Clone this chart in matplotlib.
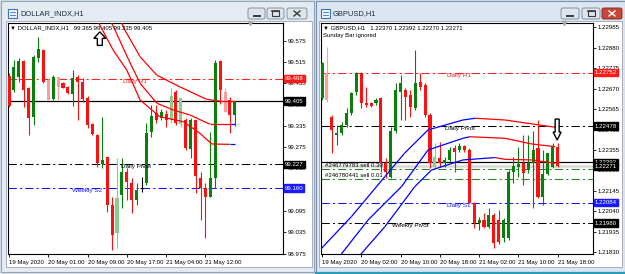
import matplotlib.pyplot as plt
import matplotlib.transforms as mtransforms
from matplotlib.collections import LineCollection
from matplotlib.patches import Rectangle, FancyBboxPatch, Polygon
import numpy as np

plt.rcParams['font.family'] = ['Liberation Sans', 'DejaVu Sans']

# ---------------- DOLLAR_INDX, H1 ----------------
usd_open = [99.476, 99.436, 99.474, 99.519, 99.441, 99.361, 99.525, 99.549, 99.464, 99.410,
            99.472, 99.455, 99.445, 99.425, 99.474, 99.460, 99.415, 99.340, 99.309, 99.228,
            99.246, 99.112, 99.032, 99.140, 99.206, 99.173, 99.126, 99.160, 99.173, 99.319,
            99.372, 99.356, 99.368, 99.352, 99.431, 99.340, 99.352, 99.269, 99.352, 99.187,
            99.159, 99.136, 99.187, 99.519, 99.431, 99.408, 99.365]
usd_high = [99.483, 99.521, 99.525, 99.522, 99.445, 99.535, 99.586, 99.553, 99.469, 99.478,
            99.474, 99.460, 99.448, 99.492, 99.478, 99.469, 99.419, 99.342, 99.312, 99.359,
            99.248, 99.136, 99.244, 99.244, 99.215, 99.187, 99.173, 99.192, 99.342, 99.394,
            99.394, 99.382, 99.380, 99.441, 99.436, 99.415, 99.356, 99.356, 99.353, 99.206,
            99.173, 99.319, 99.522, 99.521, 99.441, 99.417, 99.405]
usd_low = [99.387, 99.431, 99.460, 99.389, 99.309, 99.337, 99.516, 99.455, 99.408, 99.408,
           99.408, 99.441, 99.425, 99.391, 99.352, 99.403, 99.328, 99.309, 99.220, 99.215,
           99.093, 98.985, 98.990, 99.103, 99.126, 99.089, 99.112, 99.150, 99.168, 99.305,
           99.342, 99.352, 99.333, 99.342, 99.337, 99.333, 99.267, 99.244, 99.145, 99.070,
           99.018, 99.136, 99.159, 99.398, 99.375, 99.314, 99.335]
usd_close = [99.391, 99.502, 99.519, 99.436, 99.356, 99.530, 99.553, 99.460, 99.408, 99.472,
             99.445, 99.441, 99.429, 99.469, 99.460, 99.410, 99.337, 99.312, 99.231, 99.239,
             99.112, 99.028, 99.131, 99.206, 99.178, 99.126, 99.154, 99.160, 99.314, 99.363,
             99.352, 99.373, 99.352, 99.419, 99.342, 99.413, 99.272, 99.353, 99.194, 99.159,
             99.136, 99.187, 99.513, 99.436, 99.375, 99.366, 99.405]
usd_faded = [8, 10, 22, 33, 35, 44]
usd_dates = ["19 May 2020", "20 May 01:00", "20 May 09:00", "20 May 17:00", "21 May 04:00", "21 May 12:00"]
usd_date_bars = [0, 8, 16, 24, 32, 40]
usd_ticks = [98.975, 99.035, 99.095, 99.155, 99.215, 99.275, 99.335, 99.395, 99.455, 99.515, 99.575]
usd_hidden_ticks = [99.155]  # covered by the 99.160 price box

# envelope lines (bar, price) and segment colours
usd_ma_upper_x = [21.2, 23.6, 26.7, 30.1, 34.8, 40.2, 42.9, 46.0]
usd_ma_upper_y = [99.676, 99.605, 99.530, 99.478, 99.445, 99.410, 99.405, 99.405]
usd_ma_upper_c = ["r"] * 7
usd_ma_mid_x = [19.1, 21.6, 24.2, 26.7, 30.1, 33.4, 36.8, 40.9, 45.0, 46.0]
usd_ma_mid_y = [99.676, 99.605, 99.526, 99.455, 99.399, 99.380, 99.366, 99.340, 99.340, 99.340]
usd_ma_mid_c = ["r"] * 8 + ["b"]
usd_ma_low_x = [16.7, 18.5, 21.2, 24.0, 26.7, 30.7, 35.5, 38.9, 41.3, 45.0, 46.0]
usd_ma_low_y = [99.676, 99.619, 99.549, 99.492, 99.408, 99.361, 99.347, 99.314, 99.284, 99.283, 99.283]
usd_ma_low_c = ["r"] * 9 + ["b"]

# levels: price, label, colour, label bar, style
usd_levels = [(99.468, "Daily R1", "red", 23.2, "dashdot"),
              (99.405, "", "black", 0, "solid"),
              (99.227, "Daily Pivot", "black", 22.8, "dashdot"),
              (99.160, "Weekly S2", "blue", 12.8, "dashdot")]
usd_boxes = [(99.468, "99.468", "#ff1a1a"), (99.405, "99.405", "black"),
             (99.227, "99.227", "black"), (99.160, "99.160", "#1a1aff")]

# ---------------- GBPUSD, H1 ----------------
gbp_open = [1.22621, 1.22749, 1.22526, 1.22432, 1.22441, 1.22484, 1.22544, 1.22655, 1.22752, 1.22595,
            1.22595, 1.22595, 1.22621, 1.22287, 1.22218, 1.22450, 1.22655, 1.22663, 1.22638, 1.22569,
            1.22706, 1.22689, 1.22535, 1.22270, 1.22313, 1.22287, 1.22304, 1.22364, 1.22355, 1.22376,
            1.22355, 1.22082, 1.21979, 1.21996, 1.21958, 1.22022, 1.21996, 1.21902, 1.21902, 1.22244,
            1.22270, 1.22287, 1.22253, 1.22287, 1.22364, 1.22116, 1.22232, 1.22270, 1.22370]
gbp_high = [1.22809, 1.22886, 1.22535, 1.22484, 1.22501, 1.22569, 1.22655, 1.22757, 1.22757, 1.22680,
            1.22603, 1.22621, 1.22629, 1.22313, 1.22475, 1.22698, 1.22740, 1.22672, 1.22663, 1.22869,
            1.22749, 1.22698, 1.22544, 1.22390, 1.22398, 1.22321, 1.22372, 1.22381, 1.22390, 1.22381,
            1.22364, 1.22090, 1.22013, 1.22030, 1.22056, 1.22030, 1.22047, 1.22005, 1.22253, 1.22321,
            1.22372, 1.22432, 1.22432, 1.22450, 1.22509, 1.22355, 1.22338, 1.22390, 1.22392]
gbp_low = [1.22612, 1.22603, 1.22338, 1.22381, 1.22432, 1.22475, 1.22535, 1.22638, 1.22569, 1.22578,
           1.22574, 1.22586, 1.22244, 1.22210, 1.22210, 1.22441, 1.22509, 1.22509, 1.22526, 1.22561,
           1.22663, 1.22526, 1.22261, 1.22261, 1.22270, 1.22270, 1.22295, 1.22244, 1.22347, 1.22347,
           1.22082, 1.21953, 1.21945, 1.21953, 1.21953, 1.21851, 1.21873, 1.21885, 1.21893, 1.22184,
           1.22218, 1.22176, 1.22236, 1.22056, 1.22107, 1.22073, 1.22227, 1.22261, 1.22270]
gbp_close = [1.22800, 1.22612, 1.22460, 1.22441, 1.22484, 1.22544, 1.22646, 1.22749, 1.22595, 1.22586,
             1.22581, 1.22612, 1.22287, 1.22244, 1.22450, 1.22663, 1.22698, 1.22629, 1.22578, 1.22698,
             1.22680, 1.22535, 1.22287, 1.22321, 1.22287, 1.22304, 1.22355, 1.22347, 1.22376, 1.22355,
             1.22085, 1.21982, 1.21993, 1.21958, 1.22022, 1.21880, 1.21885, 1.21996, 1.22244, 1.22275,
             1.22283, 1.22239, 1.22287, 1.22355, 1.22116, 1.22232, 1.22338, 1.22372, 1.22271]
gbp_faded = [1, 23]
gbp_dates = ["19 May 2020", "20 May 02:00", "20 May 10:00", "20 May 18:00",
             "21 May 02:00", "21 May 10:00", "21 May 18:00"]
gbp_date_bars = [0, 8, 16, 24, 32, 40, 48]
gbp_ticks = [1.21830, 1.21935, 1.22040, 1.22145, 1.22250, 1.22355, 1.22460,
             1.22565, 1.22670, 1.22775, 1.22880, 1.22985]
gbp_hidden_ticks = []

gbp_ma_upper_x = [-0.8, -0.1, 6.0, 12.8, 16.8, 21.6, 28.7, 31.2, 37.3, 44.1, 47.5]
gbp_ma_upper_y = [1.21790, 1.21850, 1.22013, 1.22218, 1.22338, 1.22458, 1.22509, 1.22518, 1.22509, 1.22484, 1.22472]
gbp_ma_upper_c = ["b"] * 7 + ["r"] * 3
gbp_ma_mid_x = [2.2, 9.4, 16.2, 21.6, 28.7, 30.1, 37.3, 42.7, 47.5]
gbp_ma_mid_y = [1.21765, 1.21996, 1.22167, 1.22355, 1.22415, 1.22423, 1.22415, 1.22386, 1.22372]
gbp_ma_mid_c = ["b"] * 5 + ["r"] * 3
gbp_ma_low_x = [6.0, 12.8, 18.9, 22.3, 28.7, 35.2, 37.3, 42.7, 47.5]
gbp_ma_low_y = [1.21765, 1.21961, 1.22167, 1.22252, 1.22304, 1.22316, 1.22307, 1.22304, 1.22287]
gbp_ma_low_c = ["b"] * 5 + ["r"] * 3

gbp_levels = [(1.22752, "Daily R1", "red", 25.5, "dashdot"),
              (1.22478, "Daily Pivot", "black", 25.1, "dashdot"),
              (1.22292, "", "black", 0, "solid"),
              (1.22084, "Daily S1", "blue", 25.5, "dashdot"),
              (1.21980, "Weekly Pivot", "black", 14.3, "dashdot")]
gbp_orders = [(1.22256, "#246779783 sell 0.30"), (1.22205, "#246780441 sell 0.01")]
gbp_bid = 1.22271
gbp_boxes = [(1.22752, "1.22752", "#ff1a1a"), (1.22478, "1.22478", "black"),
             (1.22292, "1.22292", "black"), (1.22271, "1.22271", "black"),
             (1.22084, "1.22084", "#1a1aff"), (1.21980, "1.21980", "black")]

GREEN, RED = "#0b7f0b", "#ff1010"
GREEN_F, RED_F = "#8ccb8c", "#ff9c9c"
LINE_COL = {"r": "#ff0000", "b": "#0000ff"}
LVL_COL = {"red": "#ff2020", "black": "black", "blue": "#1010ff"}
DASH = (8, 3, 2, 3)


def draw_candles(ax, o, h, l, c, faded):
    for i in range(len(o)):
        if c[i] == o[i]:
            col = "black"
        elif c[i] > o[i]:
            col = GREEN_F if i in faded else GREEN
        else:
            col = RED_F if i in faded else RED
        ax.vlines(i, l[i], h[i], color=col, lw=0.8, zorder=3)
        if c[i] == o[i]:
            ax.hlines(o[i], i - 0.3, i + 0.3, color=col, lw=0.8, zorder=3)
        else:
            ax.bar(i, abs(c[i] - o[i]), bottom=min(o[i], c[i]), width=0.62,
                   color=col, lw=0, zorder=3)


def draw_ma(ax, xs, ys, cols):
    pts = np.column_stack([xs, ys])
    segs = [pts[k:k + 2] for k in range(len(pts) - 1)]
    ax.add_collection(LineCollection(segs, colors=[LINE_COL[c] for c in cols],
                                     lw=0.9, zorder=4))


def draw_levels(ax, levels):
    for price, label, col, lbar, style in levels:
        if style == "solid":
            ax.axhline(price, color=LVL_COL[col], lw=0.9, zorder=2)
        else:
            ax.axhline(price, color=LVL_COL[col], lw=0.75, dashes=DASH, zorder=2)
        if label:
            ax.text(lbar, price, label, color=LVL_COL[col], fontsize=4.6,
                    va="top", ha="left", zorder=5)


def draw_boxes(ax, boxes):
    tr = mtransforms.blended_transform_factory(ax.transAxes, ax.transData)
    for price, txt, col in boxes:
        ax.text(1.006, price, txt, transform=tr, color="white", fontsize=4.4,
                va="center", ha="left", clip_on=False, zorder=6,
                bbox=dict(boxstyle="square,pad=0.18", fc=col, ec=col))


def setup(ax, xlim, ylim, ticks, hidden, fmt, date_bars, dates):
    ax.set_xlim(*xlim)
    ax.set_ylim(*ylim)
    ax.set_facecolor("white")
    ax.set_yticks(ticks)
    ax.set_yticklabels(["" if v in hidden else fmt % v for v in ticks])
    ax.yaxis.tick_right()
    ax.tick_params(axis="y", length=2, width=0.6, pad=1.5, labelsize=4.4)
    ax.set_xticks(date_bars)
    ax.set_xticklabels(dates, ha="left")
    ax.tick_params(axis="x", length=2.5, width=0.6, pad=1.5, labelsize=4.3)
    for s in ax.spines.values():
        s.set_linewidth(0.8)
        s.set_color("black")
    ax.plot([0.88 if xlim[1] > 55.5 else 0.895], [1.0], marker="v", ms=3,
            color="#a8a8a8", transform=ax.transAxes, clip_on=False, zorder=6)


def hollow_arrow(ax, bar, price, down, hw, hh, sw, sh):
    s = -1 if down else 1
    pts = [(0, 0), (-hw / 2, -s * hh), (-sw / 2, -s * hh), (-sw / 2, -s * (hh + sh)),
           (sw / 2, -s * (hh + sh)), (sw / 2, -s * hh), (hw / 2, -s * hh)]
    tr = mtransforms.Affine2D() + mtransforms.ScaledTranslation(bar, price, ax.transData)
    ax.add_patch(Polygon(pts, closed=True, fc="white", ec="black", lw=1.0,
                         transform=tr, clip_on=False, zorder=7))


fig = plt.figure(figsize=(6.25, 2.74), dpi=100, facecolor="#d3dde8")

# window chrome (pixel space)
chrome = fig.add_axes([0, 0, 1, 1], zorder=0)
chrome.set_xlim(0, 625)
chrome.set_ylim(274, 0)
chrome.axis("off")
chrome.add_patch(Rectangle((0.5, 0.5), 313, 271, fc="#e5ebf2", ec="#95a4b6", lw=0.8))
chrome.add_patch(Rectangle((316, 0.5), 308.5, 271, fc="#dce6f1", ec="#7893b4", lw=0.8))
chrome.plot([316, 625], [272.6, 272.6], color="#2c9cb5", lw=1.6)
chrome.add_patch(Rectangle((6, 21), 306, 246, fc="white", ec="#9aa4b0", lw=0.6))
chrome.add_patch(Rectangle((319, 21), 303, 246, fc="white", ec="#9aa4b0", lw=0.6))
for ix in [8, 321]:
    chrome.add_patch(Rectangle((ix, 9), 8.5, 8.5, fc="#eef4fb", ec="#3f74b5", lw=0.8))
    chrome.plot([ix + 2, ix + 6.5], [12, 12], color="#3f74b5", lw=0.6)
    chrome.plot([ix + 2, ix + 6.5], [14.5, 14.5], color="#3f74b5", lw=0.6)
chrome.text(20, 14, "DOLLAR_INDX,H1", fontsize=5.4, va="center", color="#1f2d40")
chrome.text(333, 14, "GBPUSD,H1", fontsize=5.4, va="center", color="#1f2d40")
buttons = [(248, 17, "min", False), (267, 17, "max", False), (287, 20, "close", False),
           (561, 18, "min", False), (582, 18, "max", False), (602, 20, "close", True)]
for bx, bw, kind, red in buttons:
    fc, ec, gc = ("#c8473b", "#8b2d24", "white") if red else ("#dde4ec", "#8793a2", "#3a3a3a")
    chrome.add_patch(FancyBboxPatch((bx, 8), bw, 11, boxstyle="round,pad=0,rounding_size=2",
                                    fc=fc, ec=ec, lw=0.7))
    cx = bx + bw / 2
    if kind == "min":
        chrome.plot([cx - 3, cx + 3], [15.5, 15.5], color=gc, lw=1.4)
    elif kind == "max":
        chrome.add_patch(Rectangle((cx - 3.5, 11), 7, 5, fc="none", ec=gc, lw=0.8))
        chrome.plot([cx - 3.5, cx + 3.5], [11.3, 11.3], color=gc, lw=1.2)
    else:
        chrome.plot([cx - 3, cx + 3], [11, 16], color=gc, lw=1.0)
        chrome.plot([cx - 3, cx + 3], [16, 11], color=gc, lw=1.0)

# ---- left chart
axL = fig.add_axes([8 / 625, 20 / 274, 275 / 625, 231 / 274], zorder=2)
setup(axL, (-0.2, 55.8), (98.974, 99.625), usd_ticks, usd_hidden_ticks, "%.3f",
      usd_date_bars, usd_dates)
draw_levels(axL, usd_levels)
draw_candles(axL, usd_open, usd_high, usd_low, usd_close, usd_faded)
draw_ma(axL, usd_ma_upper_x, usd_ma_upper_y, usd_ma_upper_c)
draw_ma(axL, usd_ma_mid_x, usd_ma_mid_y, usd_ma_mid_c)
draw_ma(axL, usd_ma_low_x, usd_ma_low_y, usd_ma_low_c)
draw_boxes(axL, usd_boxes)
axL.text(0.007, 0.99, "\u25bc DOLLAR_INDX,H1   99.365 99.405 99.335 99.405", fontsize=4.3,
         transform=axL.transAxes, va="top", ha="left", zorder=6)
hollow_arrow(axL, 18.5, 99.600, False, 12, 6.5, 5, 7)

# ---- right chart
axR = fig.add_axes([321 / 625, 20 / 274, 272 / 625, 231 / 274], zorder=2)
setup(axR, (-0.2, 55.2), (1.21821, 1.23007), gbp_ticks, gbp_hidden_ticks, "%.5f",
      gbp_date_bars, gbp_dates)
axR.axhline(gbp_bid, color="#d8d8d8", lw=1.8, zorder=1)
draw_levels(axR, gbp_levels)
for price, label in gbp_orders:
    axR.axhline(price, color="#1e8c1e", lw=0.75, dashes=DASH, zorder=2)
    axR.text(0.6, price + 0.00004, label, fontsize=4.3, va="bottom", ha="left", zorder=5)
draw_candles(axR, gbp_open, gbp_high, gbp_low, gbp_close, gbp_faded)
draw_ma(axR, gbp_ma_upper_x, gbp_ma_upper_y, gbp_ma_upper_c)
draw_ma(axR, gbp_ma_mid_x, gbp_ma_mid_y, gbp_ma_mid_c)
draw_ma(axR, gbp_ma_low_x, gbp_ma_low_y, gbp_ma_low_c)
draw_boxes(axR, gbp_boxes)
axR.text(0.008, 0.99, "\u25bc GBPUSD,H1   1.22370 1.22392 1.22270 1.22271", fontsize=4.3,
         transform=axR.transAxes, va="top", ha="left", zorder=6)
axR.text(0.008, 0.955, "Sunday Bar ignored", fontsize=4.3,
         transform=axR.transAxes, va="top", ha="left", zorder=6)
hollow_arrow(axR, 47.9, 1.22406, True, 8, 8, 4, 13)

fig.savefig("out.png", dpi=100)
